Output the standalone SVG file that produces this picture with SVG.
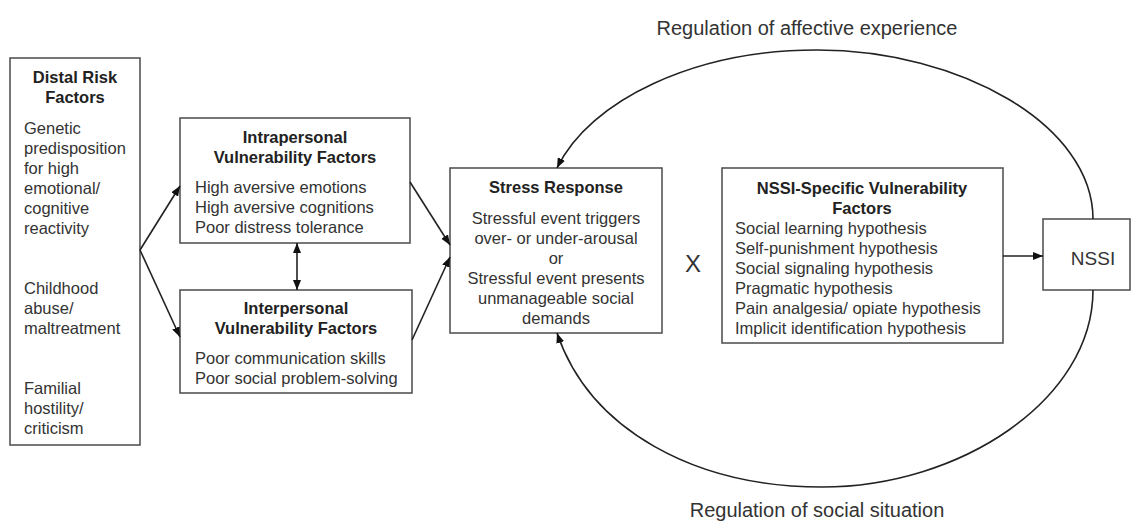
<svg xmlns="http://www.w3.org/2000/svg" width="1132" height="521" viewBox="0 0 1132 521">
<style>
  .box { fill: #fff; stroke: #555; stroke-width: 1.6; }
  text { font-family: "Liberation Sans", Arial, sans-serif; font-size: 16.5px; fill: #333; }
  .b { font-weight: bold; fill: #222; }
  .c { text-anchor: middle; }
  .lbl { font-size: 20px; }
  .con { fill: none; stroke: #222; stroke-width: 1.6; }
</style>
<defs>
  <marker id="ah" markerUnits="userSpaceOnUse" markerWidth="10" markerHeight="8" refX="10" refY="4" orient="auto-start-reverse">
    <path d="M0,0 L10,4 L0,8 z" fill="#111"/>
  </marker>
</defs>
<rect width="1132" height="521" fill="#fff"/>

<g id="distal">
  <rect class="box" x="10" y="58" width="130" height="387"/>
  <text class="b c" x="75" y="83">Distal Risk</text>
  <text class="b c" x="75" y="103">Factors</text>
  <text x="24" y="134">Genetic</text>
  <text x="24" y="154">predisposition</text>
  <text x="24" y="174">for high</text>
  <text x="24" y="194">emotional/</text>
  <text x="24" y="214">cognitive</text>
  <text x="24" y="234">reactivity</text>
  <text x="24" y="294">Childhood</text>
  <text x="24" y="314">abuse/</text>
  <text x="24" y="334">maltreatment</text>
  <text x="24" y="394">Familial</text>
  <text x="24" y="414">hostility/</text>
  <text x="24" y="434">criticism</text>
</g>

<g id="intrapersonal">
  <rect class="box" x="180" y="118" width="230" height="125"/>
  <text class="b c" x="295" y="143">Intrapersonal</text>
  <text class="b c" x="295" y="163">Vulnerability Factors</text>
  <text x="195" y="193">High aversive emotions</text>
  <text x="195" y="213">High aversive cognitions</text>
  <text x="195" y="233">Poor distress tolerance</text>
</g>

<g id="interpersonal">
  <rect class="box" x="180" y="290" width="232" height="103"/>
  <text class="b c" x="296" y="314">Interpersonal</text>
  <text class="b c" x="296" y="334">Vulnerability Factors</text>
  <text x="195" y="364">Poor communication skills</text>
  <text x="195" y="384">Poor social problem-solving</text>
</g>

<g id="stress">
  <rect class="box" x="450" y="168" width="212" height="165"/>
  <text class="b c" x="556" y="193">Stress Response</text>
  <text class="c" x="556" y="224">Stressful event triggers</text>
  <text class="c" x="556" y="244">over- or under-arousal</text>
  <text class="c" x="556" y="264">or</text>
  <text class="c" x="556" y="284">Stressful event presents</text>
  <text class="c" x="556" y="304">unmanageable social</text>
  <text class="c" x="556" y="324">demands</text>
</g>

<g id="times">
  <text class="c" x="693" y="272" style="font-size:24px">X</text>
</g>

<g id="nssi-specific">
  <rect class="box" x="722" y="168" width="281" height="175"/>
  <text class="b c" x="862" y="194">NSSI-Specific Vulnerability</text>
  <text class="b c" x="862" y="214">Factors</text>
  <text x="735" y="234">Social learning hypothesis</text>
  <text x="735" y="254">Self-punishment hypothesis</text>
  <text x="735" y="274">Social signaling hypothesis</text>
  <text x="735" y="294">Pragmatic hypothesis</text>
  <text x="735" y="314">Pain analgesia/ opiate hypothesis</text>
  <text x="735" y="334">Implicit identification hypothesis</text>
</g>

<g id="nssi">
  <rect class="box" x="1043" y="219" width="87" height="71"/>
  <text class="c" x="1093" y="265" style="font-size:19px">NSSI</text>
</g>

<g id="connectors">
  <line class="con" x1="140" y1="250" x2="180" y2="186" marker-end="url(#ah)"/>
  <line class="con" x1="140" y1="250" x2="180" y2="337" marker-end="url(#ah)"/>
  <line class="con" x1="297" y1="243" x2="297" y2="290" marker-start="url(#ah)" marker-end="url(#ah)"/>
  <line class="con" x1="410" y1="182" x2="450" y2="245" marker-end="url(#ah)"/>
  <line class="con" x1="412" y1="340" x2="450" y2="257" marker-end="url(#ah)"/>
  <line class="con" x1="1003" y1="256" x2="1043" y2="256" marker-end="url(#ah)"/>
  <path class="con" d="M1093,219 C1093,125 960,50 817,50 C695,50 590,100 557,168" marker-end="url(#ah)"/>
  <path class="con" d="M1093,290 C1093,400 960,487 822,487 C695,487 590,430 557,333" marker-end="url(#ah)"/>
  <text class="c lbl" x="807" y="35">Regulation of affective experience</text>
  <text class="c lbl" x="817" y="517">Regulation of social situation</text>
</g>
</svg>
